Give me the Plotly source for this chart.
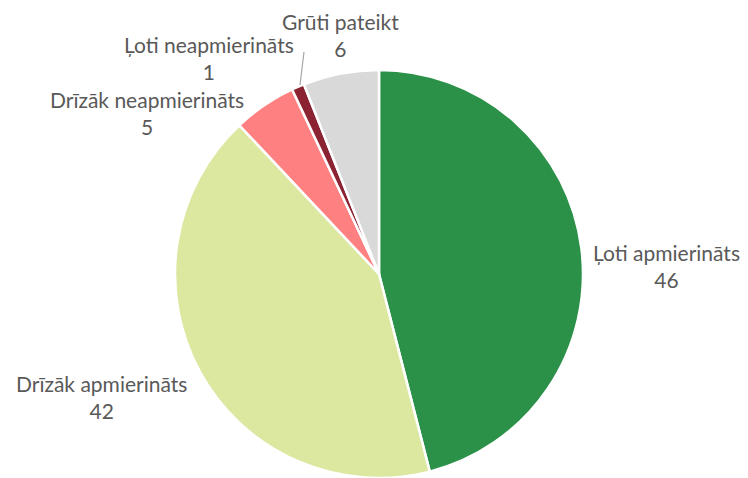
import plotly.graph_objects as go

labels = ['Ļoti apmierināts', 'Drīzāk apmierināts', 'Drīzāk neapmierināts',
          'Ļoti neapmierināts', 'Grūti pateikt']
values = [46, 42, 5, 1, 6]
colors = ['#2B9149', '#DCE7A0', '#FF8080', '#8B2332', '#D9D9D9']

W, H = 748, 478
# label block centres in pixels (Excel-style placement)
label_px = [(666, 266), (101, 397), (147, 113), (209, 58), (340, 35)]

fig = go.Figure(
    data=[
        go.Pie(
            labels=labels, values=values, sort=False, direction='clockwise',
            rotation=0, textinfo='none', hoverinfo='label+value',
            marker=dict(colors=colors, line=dict(color='white', width=2.5)),
            domain=dict(x=[174 / W, 584 / W], y=[0, 1 - 70 / H]),
        )
    ],
    layout=go.Layout(
        width=W, height=H, showlegend=False,
        margin=dict(l=0, r=0, t=0, b=0),
        paper_bgcolor='white', plot_bgcolor='white',
    )
)

for lab, val, (px, py) in zip(labels, values, label_px):
    fig.add_annotation(
        x=px / W, y=1 - py / H, xref='paper', yref='paper',
        text=f'{lab}<br>{val}', showarrow=False,
        xanchor='center', yanchor='middle', align='center',
        font=dict(family='Lato, Open Sans, sans-serif', size=21, color='#595959'),
    )

# leader line for the smallest slice
fig.add_shape(type='line', xref='paper', yref='paper',
              x0=304 / W, y0=1 - 52 / H, x1=300 / W, y1=1 - 85 / H,
              line=dict(color='#A6A6A6', width=1.2))

# drop the default page margin so the figure sits at the window corner
fig.write_html("out.html", config={'displayModeBar': False},
               post_script="document.body.style.margin='0';")
